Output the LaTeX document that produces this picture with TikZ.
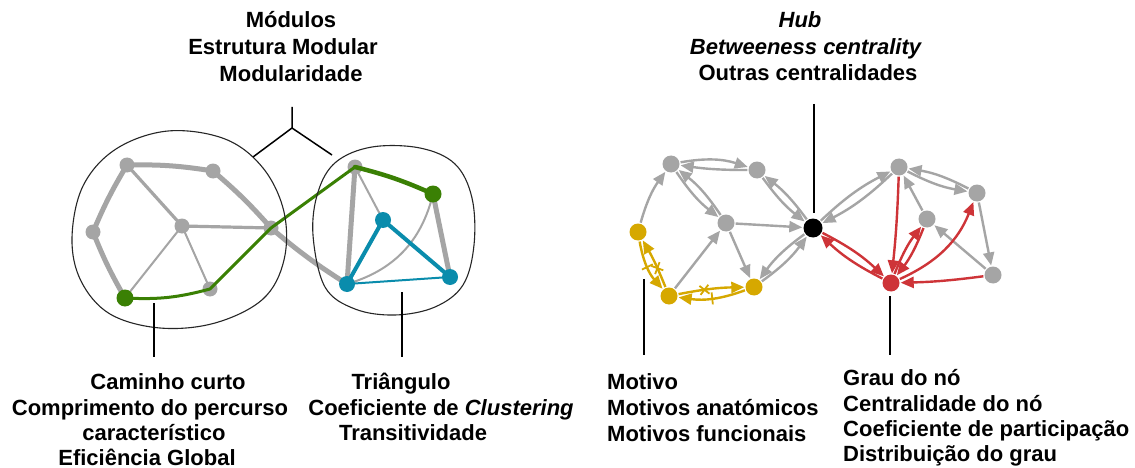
\documentclass[tikz,border=0pt]{standalone}
\usepackage{fontspec}
\setmainfont{Liberation Sans}
\usetikzlibrary{arrows.meta,decorations.markings}
\pgfdeclarelayer{paper}
\pgfdeclarelayer{back}
\pgfdeclarelayer{mid}
\pgfsetlayers{paper,back,mid,main}
\definecolor{cGray}{RGB}{165,165,165}
\definecolor{cGreen}{RGB}{58,128,4}
\definecolor{cTeal}{RGB}{10,140,172}
\definecolor{cYel}{RGB}{214,168,0}
\definecolor{cRed}{RGB}{206,52,56}
\tikzset{
  lbl/.style={font=\fontsize{22}{26}\selectfont\bfseries, inner sep=0pt, anchor=base},
  lblw/.style={lbl, anchor=base west},
  gdot/.style={circle, fill=cGray, inner sep=0pt, minimum size=15pt},
  gdotr/.style={circle, fill=cGray, inner sep=0pt, minimum size=17pt},
  grdot/.style={circle, fill=cGreen, inner sep=0pt, minimum size=17pt},
  tdot/.style={circle, fill=cTeal, inner sep=0pt, minimum size=16pt},
  ydot/.style={circle, fill=cYel, inner sep=0pt, minimum size=17pt},
  rdot/.style={circle, fill=cRed, inner sep=0pt, minimum size=17pt},
  hubdot/.style={circle, fill=black, inner sep=0pt, minimum size=19pt},
  gthick/.style={draw=cGray, line width=5pt, line cap=round},
  gmed/.style={draw=cGray, line width=3.2pt},
  gthin/.style={draw=cGray, line width=2pt},
  blob/.style={draw=black!85, line width=1.1pt},
  pointer/.style={draw=black, line width=1.5pt},
  garr/.style={draw=cGray, line width=2.4pt, -{Triangle[length=13pt,width=11pt]}, shorten >=1pt, shorten <=1pt},
  rarr/.style={garr, draw=cRed, -{Triangle[length=13pt,width=11pt,fill=cRed]}, color=cRed},
  yarr/.style={garr, draw=cYel, -{Triangle[length=13pt,width=11pt,fill=cYel]}, color=cYel},
  tickm/.style={postaction={decorate, decoration={markings, mark=at position #1 with {\draw[-, cYel, line width=1.8pt, shorten >=0pt, shorten <=0pt] (0pt,-6pt) -- (0pt,6pt);}}}},
  crossm/.style={postaction={decorate, decoration={markings, mark=at position #1 with {\draw[-, cYel, line width=1.8pt, shorten >=0pt, shorten <=0pt] (-4.5pt,-4.5pt) -- (4.5pt,4.5pt) (-4.5pt,4.5pt) -- (4.5pt,-4.5pt);}}}}
}
\begin{document}
\begin{tikzpicture}[x=1pt, y=-1pt]
\useasboundingbox (0,0) rectangle (1135,468);
\begin{pgfonlayer}{paper}
\fill[white] (0,0) rectangle (1135,468);
\end{pgfonlayer}

% ---------- texts ----------
\node[lbl] (t1) at (291,28) {Módulos};
\node[lbl] (t2) at (283,55) {Estrutura Modular};
\node[lbl] (t3) at (291,82) {Modularidade};

\node[lbl] (h1) at (800,28) {\textit{Hub}};
\node[lbl] (h2) at (806,55) {\textit{Betweeness centrality}};
\node[lbl] (h3) at (808,81) {Outras centralidades};

\node[lbl] (c1) at (168,389) {Caminho curto};
\node[lbl] (c2) at (150,415) {Comprimento do percurso};
\node[lbl] (c3) at (154,440) {característico};
\node[lbl] (c4) at (147,465) {Eficiência Global};

\node[lbl] (k1) at (401,389) {Triângulo};
\node[lbl] (k2) at (441,415) {Coeficiente de \textit{Clustering}};
\node[lbl] (k3) at (413,440) {Transitividade};

\node[lblw] (m1) at (607,389) {Motivo};
\node[lblw] (m2) at (607,415) {Motivos anatómicos};
\node[lblw] (m3) at (607,441) {Motivos funcionais};

\node[lblw] (g1) at (843,385) {Grau do nó};
\node[lblw] (g2) at (843,411) {Centralidade do nó};
\node[lblw] (g3) at (843,436) {Coeficiente de participação};
\node[lblw] (g4) at (843,461) {Distribuição do grau};

% ---------- blobs ----------
\draw[blob] plot[smooth cycle, tension=0.6] coordinates {(72,238) (83,186) (116,149) (168,131) (225,139) (263,168) (284,212) (284,260) (263,299) (215,323) (160,328) (110,314) (81,281)};
\draw[blob] plot[smooth cycle, tension=0.6] coordinates {(313,235) (318,192) (336,162) (372,147) (420,148) (455,164) (472,198) (474,245) (463,285) (435,307) (395,315) (355,309) (325,287)};

% ---------- pointer lines ----------
\coordinate (brtop) at (292,107);
\coordinate (brj) at (292,128);
\coordinate (brl) at (253,157);
\coordinate (brr) at (332,155);
\draw[pointer] (brtop) -- (brj) -- (brl);
\draw[pointer] (brj) -- (brr);
\coordinate (pa1) at (154,303); \coordinate (pa2) at (154,357);
\coordinate (pb1) at (402,292); \coordinate (pb2) at (402,357);
\coordinate (pc1) at (644,279); \coordinate (pc2) at (644,355);
\coordinate (pd1) at (814,104); \coordinate (pd2) at (814,213);
\coordinate (pe1) at (890,296); \coordinate (pe2) at (890,355);
\draw[pointer] (pa1) -- (pa2);
\draw[pointer] (pb1) -- (pb2);
\draw[pointer] (pc1) -- (pc2);
\draw[pointer] (pd1) -- (pd2);
\draw[pointer] (pe1) -- (pe2);

% ---------- left network ----------
\begin{pgfonlayer}{back}
\node[gdot] (A) at (127,165) {};
\node[gdot] (B) at (213,171) {};
\node[gdot] (C) at (182,226) {};
\node[gdot] (D) at (93,232) {};
\node[gdot] (F) at (210,289) {};
\node[gdot] (G) at (271,228) {};
\node[gdot] (H) at (355,167) {};
\end{pgfonlayer}
\node[grdot] (E) at (125,298) {};
\node[grdot] (I) at (433,194) {};
\node[tdot] (J) at (383,220) {};
\node[tdot] (K) at (347,284) {};
\node[tdot] (L) at (450,277) {};

\begin{pgfonlayer}{back}
\draw[gthick] (A.center) to[bend left=5] (B.center);
\draw[gthick] (A.center) to[bend right=4] (D.center);
\draw[gthick] (D.center) to[bend right=4] (E.center);
\draw[gthick] (B.center) to[bend left=4] (G.center);
\draw[gthick] (G.center) to[bend right=4] (K.center);
\draw[gmed] (A.center) -- (C.center);
\draw[gmed] (C.center) -- (G.center);
\draw[gthin] (C.center) -- (E.center);
\draw[gthin] (C.center) -- (F.center);
\draw[gthick] (H.center) -- (K.center);
\draw[gthin] (H.center) -- (J.center);
\draw[gthick] (I.center) -- (L.center);
\draw[gthin] (I.center) to[bend left=30] (K.center);
\end{pgfonlayer}
\begin{pgfonlayer}{mid}
\draw[cGreen, line width=3pt, line join=round] (E.center) to[out=-3, in=195] (F.center) -- (G.center) -- (H.center);
\draw[cGreen, line width=4.5pt, line cap=round] (H.center) to[bend left=5] (I.center);
\draw[cTeal, line width=4pt] (J.center) -- (K.center);
\draw[cTeal, line width=4pt] (J.center) -- (L.center);
\draw[cTeal, line width=2pt] (K.center) -- (L.center);
\end{pgfonlayer}

% ---------- right network ----------
\node[gdotr] (P1) at (671,164) {};
\node[gdotr] (P2) at (757,170) {};
\node[gdotr] (P3) at (726,223) {};
\node[hubdot] (HB) at (813,228) {};
\node[ydot] (Y1) at (638,232) {};
\node[ydot] (Y2) at (669,296) {};
\node[ydot] (Y3) at (754,287) {};
\node[gdotr] (Q1) at (899,167) {};
\node[gdotr] (Q2) at (977,193) {};
\node[gdotr] (Q3) at (927,219) {};
\node[gdotr] (Q4) at (993,275) {};
\node[rdot] (R) at (891,283) {};

% gray arrows
\draw[garr] (Y1) to[bend left=10] (P1);
\draw[garr] (P1) to[bend left=14] (P2);
\draw[garr] (P2) to[bend left=4] (P1);
\draw[garr] (P1) to[bend right=9] (P3);
\draw[garr] (P3) to[bend right=9] (P1);
\draw[garr] (P2) to[bend right=8] (HB);
\draw[garr] (HB) to[bend right=8] (P2);
\draw[garr] (P3) -- (HB);
\draw[garr] (P3) -- (Y3);
\draw[garr] (Y2) -- (P3);
\draw[garr] (Y3) to[bend right=9] (HB);
\draw[garr] (HB) to[bend right=9] (Y3);
\draw[garr] (HB) to[bend left=8] (Q1);
\draw[garr] (Q1) to[bend left=8] (HB);
\draw[garr] (Q1) to[bend right=9] (Q2);
\draw[garr] (Q2) to[bend right=9] (Q1);
\draw[garr] (Q3) -- (Q1);
\draw[garr] (Q2) -- (Q4);
\draw[garr] (Q4) -- (Q3);

% red arrows
\draw[rarr] (HB) to[bend left=8] (R);
\draw[rarr] (R) to[bend left=8] (HB);
\draw[rarr] (Q1) to[bend left=2] (R);
\draw[rarr] (R) to[bend left=8] (Q3);
\draw[rarr] (Q3) to[bend left=8] (R);
\draw[rarr] (R) to[bend right=22] (Q2);
\draw[rarr] (Q4) to[bend left=3] (R);

% yellow motif arrows
\draw[yarr, tickm=0.5] (Y1) to[bend right=16] (Y2);
\draw[yarr, crossm=0.4] (Y2) to[bend right=4] (Y1);
\draw[yarr, crossm=0.4] (Y2) to[bend left=5] (Y3);
\draw[yarr, tickm=0.5] (Y3) to[bend left=14] (Y2);
\end{tikzpicture}
\end{document}
